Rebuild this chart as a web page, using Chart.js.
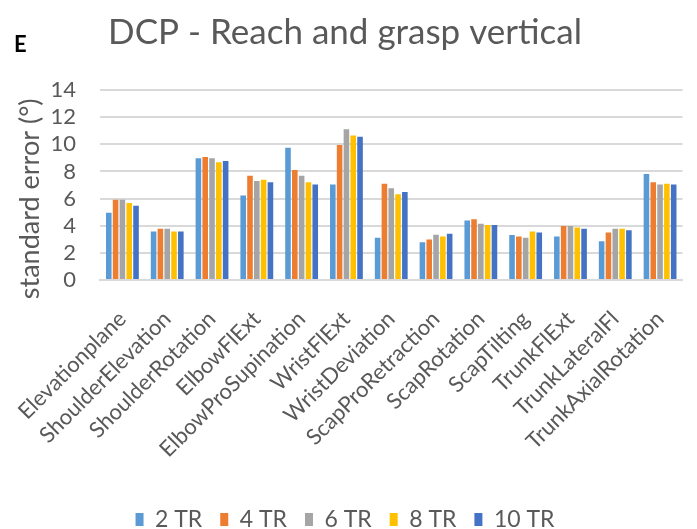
<!DOCTYPE html>
<html>
<head>
<meta charset="utf-8">
<script src="https://cdn.jsdelivr.net/npm/chart.js@4"></script>
<style>
  html, body { margin: 0; padding: 0; background: #fff; }
  #wrap { position: relative; width: 697px; height: 529px; }
  #panel { position: absolute; left: 14px; top: 30px; font: bold 22px Lato, sans-serif; color: #000; }
</style>
</head>
<body>
<div id="wrap">
  <canvas id="myChart" width="697" height="529"></canvas>
  <div id="panel">E</div>
</div>
<script>
const categories = [
    "Elevationplane", "ShoulderElevation", "ShoulderRotation", "ElbowFlExt",
    "ElbowProSupination", "WristFlExt", "WristDeviation", "ScapProRetraction",
    "ScapRotation", "ScapTilting", "TrunkFlExt", "TrunkLateralFl", "TrunkAxialRotation"
];

const tr2  = [4.95, 3.57, 8.98, 6.22, 9.74, 7.03, 3.11, 2.79, 4.38, 3.31, 3.21, 2.86, 7.81];
const tr4  = [5.92, 3.77, 9.06, 7.69, 8.10, 9.94, 7.10, 2.99, 4.48, 3.21, 3.97, 3.50, 7.20];
const tr6  = [5.92, 3.77, 8.98, 7.30, 7.69, 11.10, 6.76, 3.33, 4.14, 3.11, 3.97, 3.77, 7.03];
const tr8  = [5.68, 3.57, 8.67, 7.39, 7.20, 10.65, 6.32, 3.21, 4.06, 3.57, 3.87, 3.77, 7.10];
const tr10 = [5.48, 3.57, 8.77, 7.20, 7.03, 10.55, 6.49, 3.40, 4.06, 3.50, 3.77, 3.67, 7.03];

const yTicks = [0, 2, 4, 6, 8, 10, 12, 14];

const gray = "#595959";
const font = "Lato";

const ctx = document.getElementById("myChart").getContext("2d");

const myChart = new Chart(ctx, {
    type: "bar",
    data: {
        labels: categories,
        datasets: [
            { label: "2 TR",  data: tr2,  backgroundColor: "#5B9BD5" },
            { label: "4 TR",  data: tr4,  backgroundColor: "#ED7D31" },
            { label: "6 TR",  data: tr6,  backgroundColor: "#A5A5A5" },
            { label: "8 TR",  data: tr8,  backgroundColor: "#FFC000" },
            { label: "10 TR", data: tr10, backgroundColor: "#4472C4" }
        ]
    },
    options: {
        responsive: false,
        animation: false,
        datasets: {
            bar: { categoryPercentage: 0.76, barPercentage: 0.82 }
        },
        layout: {
            padding: { left: 0, right: 7, top: 0, bottom: -12 }
        },
        scales: {
            x: {
                grid: { display: false },
                border: { color: "#d9d9d9", width: 2 },
                ticks: {
                    color: gray,
                    font: { family: font, size: 22 },
                    maxRotation: 45,
                    minRotation: 45,
                    autoSkip: false,
                    padding: 18
                },
                afterFit: scale => { scale.height = 210; }
            },
            y: {
                min: 0,
                max: 14,
                afterBuildTicks: scale => { scale.ticks = yTicks.map(v => ({ value: v })); },
                grid: { color: "#d9d9d9", lineWidth: 2, drawTicks: false },
                border: { display: false },
                ticks: {
                    color: gray,
                    font: { family: font, size: 22 },
                    padding: 24,
                    autoSkip: false
                },
                title: {
                    display: true,
                    // trailing spaces nudge the rotated title down like the original
                    text: "standard error (°)    ",
                    color: gray,
                    font: { family: font, size: 27 },
                    padding: { top: 14, bottom: 0 }
                },
                afterFit: scale => { scale.width = 100; }
            }
        },
        plugins: {
            title: {
                display: true,
                text: "DCP - Reach and grasp vertical",
                color: gray,
                font: { family: font, size: 35, weight: "normal" },
                padding: { top: 12, bottom: 36 }
            },
            legend: {
                position: "bottom",
                labels: {
                    color: gray,
                    font: { family: font, size: 23 },
                    boxWidth: 8,
                    boxHeight: 13,
                    padding: 18
                }
            },
            tooltip: { enabled: false }
        }
    }
});
</script>
</body>
</html>
